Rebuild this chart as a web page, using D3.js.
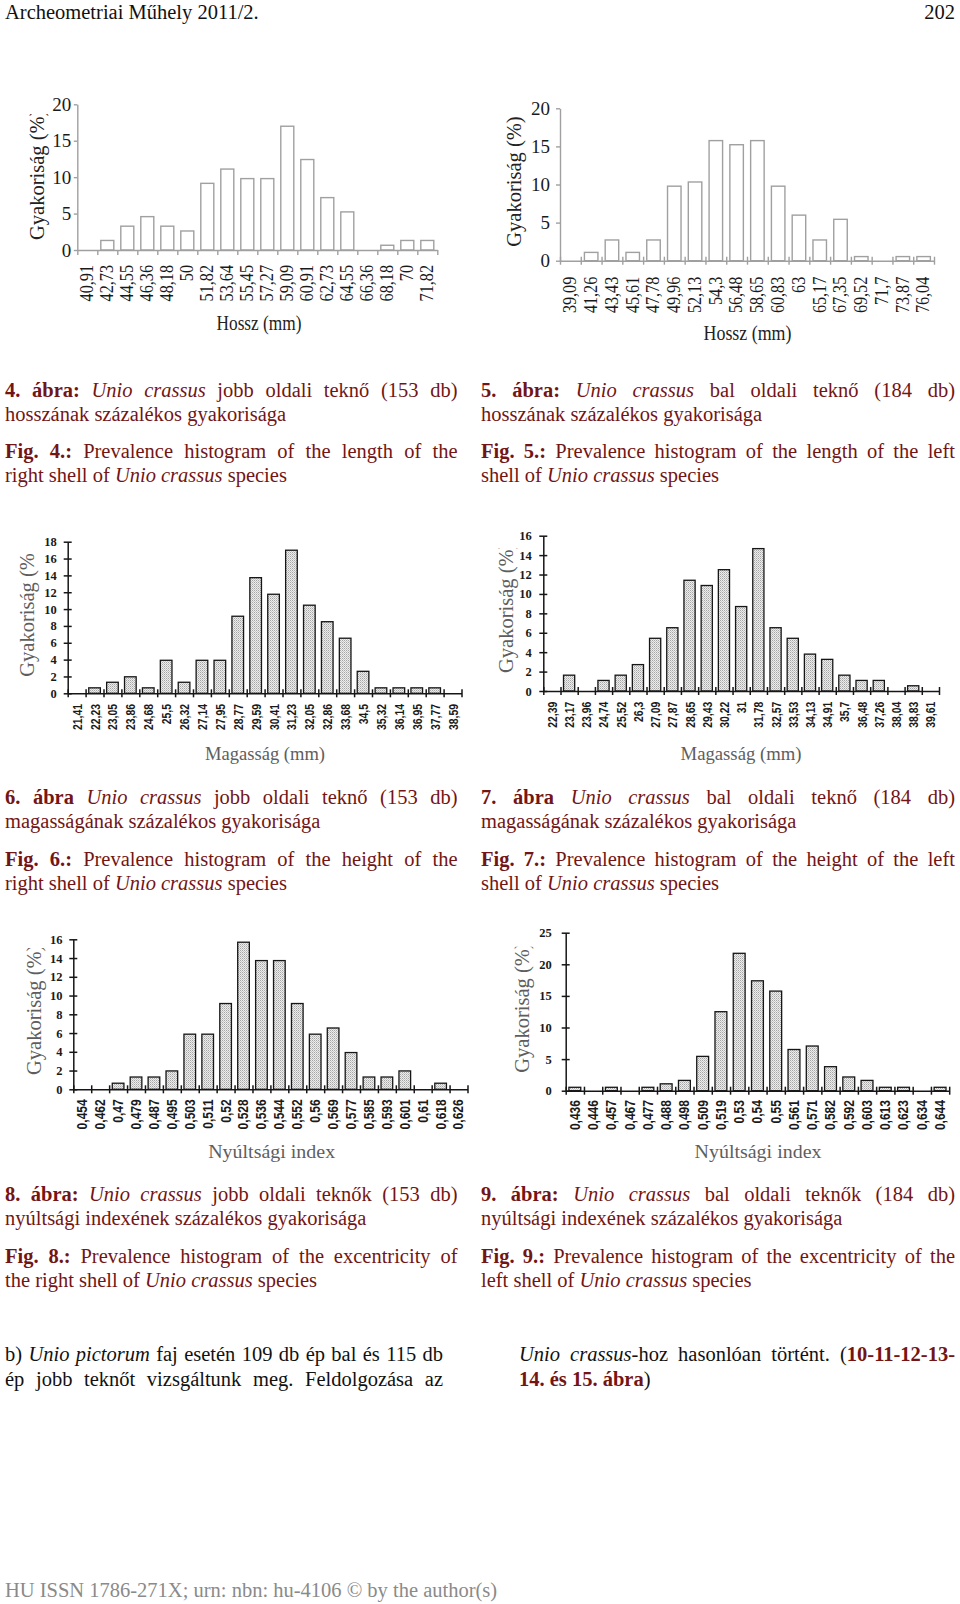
<!DOCTYPE html>
<html><head><meta charset="utf-8">
<script src="https://cdn.jsdelivr.net/npm/d3@7"></script>
<style>
body{margin:0;background:#fff;}
#page{position:relative;width:960px;height:1604px;overflow:hidden;font-family:"Liberation Serif","Times New Roman",serif;}
#svg{position:absolute;left:0;top:0;}
.ln{position:absolute;font-size:20.5px;line-height:24px;white-space:nowrap;}
</style></head><body><div id="page"><svg id="svg" width="960" height="1604"></svg></div>
<script>
// ---------- DATA ----------
const labels4 = ["40,91","42,73","44,55","46,36","48,18","50","51,82","53,64","55,45","57,27","59,09","60,91","62,73","64,55","66,36","68,18","70","71,82"];
const values4 = [0,1.31,3.27,4.58,3.27,2.61,9.15,11.11,9.8,9.8,16.99,12.42,7.19,5.23,0,0.65,1.31,1.31];
const yTicks4 = [0,5,10,15,20];

const labels5 = ["39,09","41,26","43,43","45,61","47,78","49,96","52,13","54,3","56,48","58,65","60,83","63","65,17","67,35","69,52","71,7","73,87","76,04"];
const values5 = [0,1.09,2.72,1.09,2.72,9.78,10.33,15.76,15.22,15.76,9.78,5.98,2.72,5.43,0.54,0,0.54,0.54];
const yTicks5 = [0,5,10,15,20];

const labels6 = ["21,41","22,23","23,05","23,86","24,68","25,5","26,32","27,14","27,95","28,77","29,59","30,41","31,23","32,05","32,86","33,68","34,5","35,32","36,14","36,95","37,77","38,59"];
const values6 = [0,0.65,1.31,1.96,0.65,3.92,1.31,3.92,3.92,9.15,13.73,11.76,16.99,10.46,8.5,6.54,2.61,0.65,0.65,0.65,0.65,0];
const yTicks6 = [0,2,4,6,8,10,12,14,16,18];

const labels7 = ["22,39","23,17","23,96","24,74","25,52","26,3","27,09","27,87","28,65","29,43","30,22","31","31,78","32,57","33,53","34,13","34,91","35,7","36,48","37,26","38,04","38,83","39,61"];
const values7 = [0,1.63,0,1.09,1.63,2.72,5.43,6.52,11.41,10.87,12.5,8.7,14.67,6.52,5.43,3.8,3.26,1.63,1.09,1.09,0,0.54,0];
const yTicks7 = [0,2,4,6,8,10,12,14,16];

const labels8 = ["0,454","0,462","0,47","0,479","0,487","0,495","0,503","0,511","0,52","0,528","0,536","0,544","0,552","0,56","0,569","0,577","0,585","0,593","0,601","0,61","0,618","0,626"];
const values8 = [0,0,0.65,1.31,1.31,1.96,5.88,5.88,9.15,15.69,13.73,13.73,9.15,5.88,6.54,3.92,1.31,1.31,1.96,0,0.65,0];
const yTicks8 = [0,2,4,6,8,10,12,14,16];

const labels9 = ["0,436","0,446","0,457","0,467","0,477","0,488","0,498","0,509","0,519","0,53","0,54","0,55","0,561","0,571","0,582","0,592","0,603","0,613","0,623","0,634","0,644"];
const values9 = [0.54,0,0.54,0,0.54,1.09,1.63,5.43,12.5,21.74,17.39,15.76,6.52,7.07,3.8,2.17,1.63,0.54,0.54,0,0.54];
const yTicks9 = [0,5,10,15,20,25];

const yTitle = "Gyakoriság (%)";

// ---------- SETUP ----------
const svg = d3.select("#svg");
const page = d3.select("#page");
const defs = svg.append("defs");
const pat = defs.append("pattern").attr("id","dots").attr("width",2).attr("height",2).attr("patternUnits","userSpaceOnUse");
pat.append("rect").attr("width",2).attr("height",2).attr("fill","#ededed");
pat.append("rect").attr("width",1).attr("height",1).attr("fill","#a6a6a6");
pat.append("rect").attr("x",1).attr("y",1).attr("width",1).attr("height",1).attr("fill","#c6c6c6");

const SERIF = "'Liberation Serif','Times New Roman',serif";
const SANS = "'Liberation Sans',Arial,sans-serif";

function drawChart(c, idx){
  const g = svg.append("g");
  const n = c.labels.length;
  const x = d3.scaleBand().domain(c.labels).range([c.x0, c.x1]).paddingInner(0.35).paddingOuter(0.175);
  const xb = d3.scaleLinear().domain([0, n]).range([c.x0, c.x1]);
  const y = d3.scaleLinear().domain([0, c.ymax]).range([c.y0, c.yTop]);

  // bars
  const data = c.values.map((v,i)=>({v, l:c.labels[i]})).filter(d=>d.v>0);
  g.append("g").selectAll("rect").data(data).join("rect")
    .attr("x", d=>x(d.l)).attr("width", x.bandwidth())
    .attr("y", d=>y(d.v)).attr("height", d=>c.y0 - y(d.v))
    .attr("fill", c.fill).attr("stroke", c.barStroke).attr("stroke-width", c.barSW);

  // x axis (category boundaries)
  const xa = g.append("g").attr("transform", `translate(0,${c.y0})`)
    .call(d3.axisBottom(xb).tickValues(d3.range(n+1)).tickFormat("").tickSizeOuter(0).tickSizeInner(c.xTickDown));
  xa.selectAll(".tick line").attr("y1", -c.xTickUp);
  xa.selectAll("path,line").attr("stroke", c.axisColor).attr("stroke-width", c.axisSW);

  // y axis
  const ya = g.append("g").attr("transform", `translate(${c.x0},0)`)
    .call(d3.axisLeft(y).tickValues(c.yTicks).tickSizeOuter(0).tickSizeInner(c.yTickL).tickPadding(c.yPad));
  ya.selectAll(".tick line").attr("x1", c.yTickR);
  ya.selectAll("path,line").attr("stroke", c.axisColor).attr("stroke-width", c.axisSW);
  ya.selectAll("text").attr("font-family", SERIF).attr("font-size", c.yFont)
    .attr("font-weight", c.yBold ? "bold" : "normal").attr("fill", "#1a1a1a");

  // x category labels (rotated)
  g.append("g").selectAll("text").data(c.labels).join("text")
    .attr("transform", d=>`translate(${x(d) + x.bandwidth()/2},${c.labTop}) rotate(-90) scale(${c.labScale},1)`)
    .attr("text-anchor","end").attr("dominant-baseline","central")
    .attr("font-family", c.labFamily).attr("font-size", c.labFont)
    .attr("font-weight", c.labBold ? "bold" : "normal").attr("fill","#1a1a1a")
    .text(d=>d);

  // y title (clipped at top as in the scan)
  const cid = "clip"+idx;
  defs.append("clipPath").attr("id", cid).attr("clipPathUnits","userSpaceOnUse").append("rect")
    .attr("x",0).attr("y",c.tClip).attr("width",960).attr("height",1604-c.tClip);
  g.append("g").attr("clip-path", `url(#${cid})`)
    .append("text")
    .attr("transform", `translate(${c.tX},${c.tBottom}) rotate(-90)`)
    .attr("text-anchor","start").attr("dominant-baseline","central")
    .attr("font-family", SERIF).attr("font-size", 20.5).attr("fill", c.tColor)
    .text(yTitle);

  // x title
  g.append("text").attr("x", c.xtX).attr("y", c.xtY).attr("text-anchor","middle")
    .attr("font-family", SERIF).attr("font-size", c.xtFont).attr("fill", c.tColor)
    .attr("textLength", c.xtLen).attr("lengthAdjust","spacingAndGlyphs")
    .text(c.xTitle);
}

const light = {fill:"#fff", barStroke:"#a0a0a0", barSW:1.4, axisColor:"#a0a0a0", axisSW:1.4,
  yBold:false, yFont:19, yTickR:0, labFamily:SERIF, labFont:18, labScale:0.9, labBold:false, tColor:"#222", xtFont:20};
const dark = {fill:"url(#dots)", barStroke:"#161616", barSW:1.3, axisColor:"#161616", axisSW:1.5,
  yBold:true, yFont:12.5, yTickL:4, yTickR:4, xTickUp:4, xTickDown:4, labFamily:SANS, labBold:true, tColor:"#5e5e5e", xtFont:19};

const charts = [
  Object.assign({}, light, {labels:labels4, values:values4, yTicks:yTicks4, ymax:20,
    x0:77.3, x1:437.3, y0:250, yTop:104.3, xTickUp:0, xTickDown:5, yTickL:3.5, yPad:2.5,
    labTop:265, tX:36.7, tBottom:240, tClip:114, xTitle:"Hossz (mm)", xtX:259, xtY:330, xtLen:85}),
  Object.assign({}, light, {labels:labels5, values:values5, yTicks:yTicks5, ymax:20,
    x0:560, x1:934, y0:260.7, yTop:108.3, xTickUp:4, xTickDown:4, yTickL:4, yPad:6,
    labTop:276.7, tX:514, tBottom:246.7, tClip:0, xTitle:"Hossz (mm)", xtX:747.5, xtY:340, xtLen:88}),
  Object.assign({}, dark, {labels:labels6, values:values6, yTicks:yTicks6, ymax:18,
    x0:67.7, x1:461.5, y0:693.3, yTop:541.7, yPad:7, labTop:704, labFont:13, labScale:0.8,
    tX:26.7, tBottom:676.7, tClip:553, xTitle:"Magasság (mm)", xtX:265, xtY:760, xtLen:120}),
  Object.assign({}, dark, {labels:labels7, values:values7, yTicks:yTicks7, ymax:16,
    x0:543.3, x1:939, y0:691, yTop:535.7, yPad:7.5, labTop:701.7, labFont:13, labScale:0.8,
    tX:505.8, tBottom:673, tClip:548.3, xTitle:"Magasság (mm)", xtX:741, xtY:759.5, xtLen:121}),
  Object.assign({}, dark, {labels:labels8, values:values8, yTicks:yTicks8, ymax:16,
    x0:73.3, x1:467.5, y0:1089.3, yTop:939.3, yPad:6.7, labTop:1099.3, labFont:14.5, labScale:0.83,
    tX:34, tBottom:1075, tClip:948, xTitle:"Nyúltsági index", xtX:271.7, xtY:1158, xtLen:127}),
  Object.assign({}, dark, {labels:labels9, values:values9, yTicks:yTicks9, ymax:25,
    x0:565.7, x1:949.2, y0:1090.7, yTop:932.7, yPad:10, labTop:1100, labFont:14.5, labScale:0.83,
    tX:522, tBottom:1072.7, tClip:946.7, xTitle:"Nyúltsági index", xtX:758, xtY:1158, xtLen:127})
];
charts.forEach(drawChart);

// ---------- TEXT ----------
const RED = "#731515";
function textLine(x, base, w, html, color, justify){
  const d = page.append("div").attr("class","ln")
    .style("left", x+"px").style("top", (base-18.6)+"px").style("color", color).html(html);
  if (justify){
    const node = d.node();
    const nat = node.getBoundingClientRect().width;
    const sp = (node.textContent.match(/ /g) || []).length;
    if (sp > 0) d.style("word-spacing", ((w - nat)/sp) + "px");
  }
  return d;
}

// header
textLine(5, 19, 0, "Archeometriai Műhely 2011/2.", "#111", false);
textLine(955, 19, 0, "202", "#111", false).style("transform","translateX(-100%)");

const L = 5, LW = 452.5, R = 481, RW = 474;
// captions 4 / 5
textLine(L, 396.5, LW, "<b>4. ábra:</b> <i>Unio crassus</i> jobb oldali teknő (153 db)", RED, true);
textLine(L, 420.5, LW, "hosszának százalékos gyakorisága", RED, false);
textLine(L, 457.5, LW, "<b>Fig. 4.:</b> Prevalence histogram of the length of the", RED, true);
textLine(L, 481.5, LW, "right shell of <i>Unio crassus</i> species", RED, false);
textLine(R, 396.5, RW, "<b>5. ábra:</b> <i>Unio crassus</i> bal oldali teknő (184 db)", RED, true);
textLine(R, 420.5, RW, "hosszának százalékos gyakorisága", RED, false);
textLine(R, 457.5, RW, "<b>Fig. 5.:</b> Prevalence histogram of the length of the left", RED, true);
textLine(R, 481.5, RW, "shell of <i>Unio crassus</i> species", RED, false);
// captions 6 / 7
textLine(L, 803.5, LW, "<b>6. ábra</b> <i>Unio crassus</i> jobb oldali teknő (153 db)", RED, true);
textLine(L, 827.5, LW, "magasságának százalékos gyakorisága", RED, false);
textLine(L, 865.5, LW, "<b>Fig. 6.:</b> Prevalence histogram of the height of the", RED, true);
textLine(L, 889.5, LW, "right shell of <i>Unio crassus</i> species", RED, false);
textLine(R, 803.5, RW, "<b>7. ábra</b> <i>Unio crassus</i> bal oldali teknő (184 db)", RED, true);
textLine(R, 827.5, RW, "magasságának százalékos gyakorisága", RED, false);
textLine(R, 865.5, RW, "<b>Fig. 7.:</b> Prevalence histogram of the height of the left", RED, true);
textLine(R, 889.5, RW, "shell of <i>Unio crassus</i> species", RED, false);
// captions 8 / 9
textLine(L, 1201, LW, "<b>8. ábra:</b> <i>Unio crassus</i> jobb oldali teknők (153 db)", RED, true);
textLine(L, 1225, LW, "nyúltsági indexének százalékos gyakorisága", RED, false);
textLine(L, 1263, LW, "<b>Fig. 8.:</b> Prevalence histogram of the excentricity of", RED, true);
textLine(L, 1287, LW, "the right shell of <i>Unio crassus</i> species", RED, false);
textLine(R, 1201, RW, "<b>9. ábra:</b> <i>Unio crassus</i> bal oldali teknők (184 db)", RED, true);
textLine(R, 1225, RW, "nyúltsági indexének százalékos gyakorisága", RED, false);
textLine(R, 1263, RW, "<b>Fig. 9.:</b> Prevalence histogram of the excentricity of the", RED, true);
textLine(R, 1287, RW, "left shell of <i>Unio crassus</i> species", RED, false);

// body text
textLine(5, 1361, 438, "b) <i>Unio pictorum</i> faj esetén 109 db ép bal és 115 db", "#111", true);
textLine(5, 1385.5, 438, "ép jobb teknőt vizsgáltunk meg. Feldolgozása az", "#111", true);
textLine(519, 1361, 436, `<i>Unio crassus</i>-hoz hasonlóan történt. (<b style="color:${RED}">10-11-12-13-</b>`, "#111", true);
textLine(519, 1385.5, 0, `<b style="color:${RED}">14. és 15. ábra</b>)`, "#111", false);

// footer
textLine(5, 1597, 0, "HU ISSN 1786-271X; urn: nbn: hu-4106 © by the author(s)", "#8a8a8a", false);
</script></body></html>
